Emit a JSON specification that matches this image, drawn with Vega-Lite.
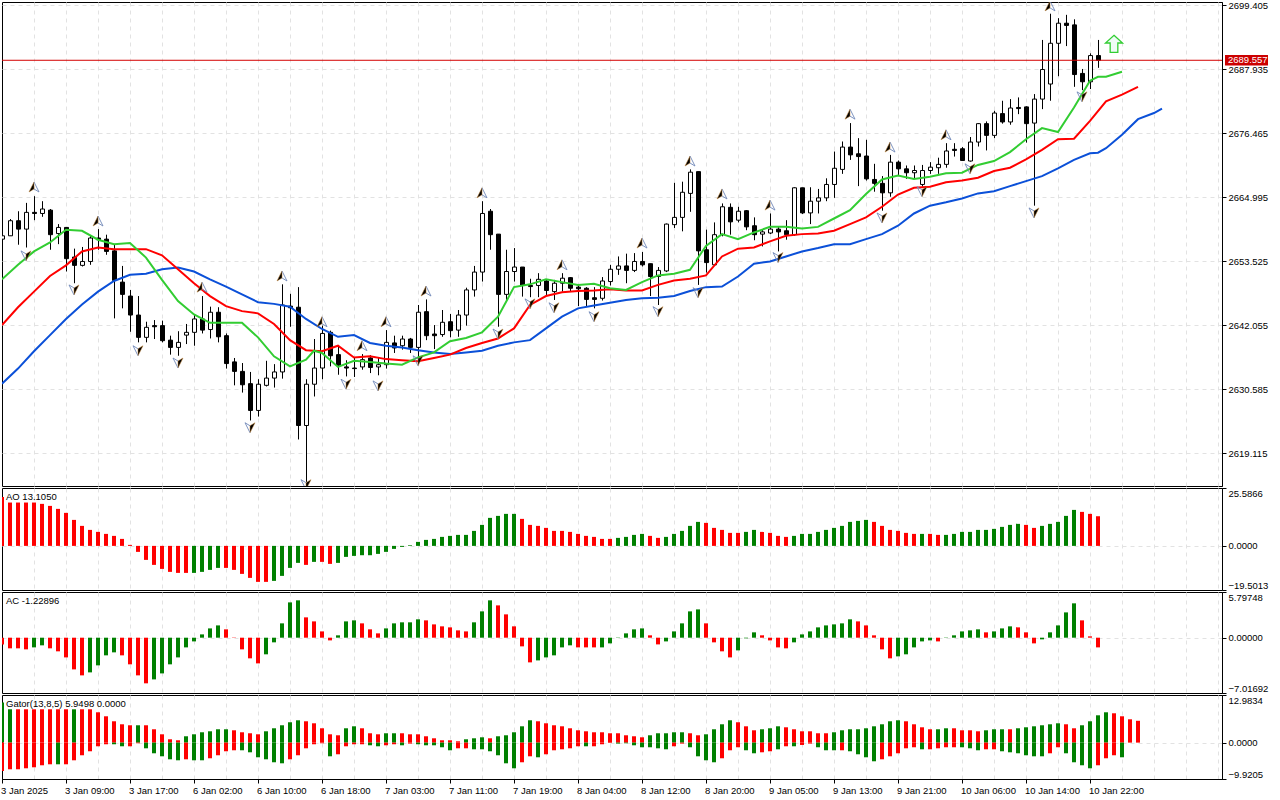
{
  "$schema": "https://vega.github.io/schema/vega-lite/v6.json",
  "padding": {"left": 0, "top": -1, "right": 0, "bottom": 0},
  "background": "white",
  "spacing": 2,
  "bounds": "flush",
  "datasets": {
    "candles": [
      {"bar":0,"open":2657.5,"high":2658.2,"low":2657.4,"close":2658.1},
      {"bar":1,"open":2658.1,"high":2661.1,"low":2658.1,"close":2660.8},
      {"bar":2,"open":2660.8,"high":2662.5,"low":2656.5,"close":2659.3},
      {"bar":3,"open":2659.3,"high":2664.0,"low":2656.0,"close":2662.3},
      {"bar":4,"open":2662.3,"high":2665.2,"low":2660.9,"close":2662.1},
      {"bar":5,"open":2662.1,"high":2664.3,"low":2661.5,"close":2662.9},
      {"bar":6,"open":2662.7,"high":2662.9,"low":2655.6,"close":2658.3},
      {"bar":7,"open":2658.5,"high":2660.2,"low":2656.6,"close":2659.6},
      {"bar":8,"open":2659.6,"high":2659.6,"low":2651.7,"close":2654.0},
      {"bar":9,"open":2654.3,"high":2655.8,"low":2649.6,"close":2652.8},
      {"bar":10,"open":2652.8,"high":2656.1,"low":2652.6,"close":2653.5},
      {"bar":11,"open":2653.5,"high":2658.1,"low":2652.9,"close":2657.7},
      {"bar":12,"open":2657.7,"high":2659.3,"low":2655.6,"close":2657.4},
      {"bar":13,"open":2657.5,"high":2658.3,"low":2654.7,"close":2655.3},
      {"bar":14,"open":2655.4,"high":2656.5,"low":2643.3,"close":2650.1},
      {"bar":15,"open":2649.8,"high":2652.7,"low":2645.1,"close":2647.6},
      {"bar":16,"open":2647.3,"high":2648.4,"low":2640.9,"close":2643.9},
      {"bar":17,"open":2643.9,"high":2647.3,"low":2639.0,"close":2639.9},
      {"bar":18,"open":2639.9,"high":2642.7,"low":2639.0,"close":2641.7},
      {"bar":19,"open":2642.0,"high":2643.0,"low":2639.6,"close":2641.8},
      {"bar":20,"open":2642.0,"high":2642.9,"low":2639.0,"close":2639.3},
      {"bar":21,"open":2639.4,"high":2640.2,"low":2636.8,"close":2638.1},
      {"bar":22,"open":2638.1,"high":2641.0,"low":2636.6,"close":2639.0},
      {"bar":23,"open":2640.3,"high":2642.3,"low":2638.7,"close":2640.8},
      {"bar":24,"open":2640.8,"high":2643.9,"low":2638.4,"close":2643.2},
      {"bar":25,"open":2643.2,"high":2647.3,"low":2640.6,"close":2641.2},
      {"bar":26,"open":2641.3,"high":2645.4,"low":2639.7,"close":2644.4},
      {"bar":27,"open":2644.4,"high":2645.3,"low":2639.0,"close":2640.0},
      {"bar":28,"open":2640.2,"high":2640.6,"low":2634.3,"close":2635.2},
      {"bar":29,"open":2635.5,"high":2636.2,"low":2631.3,"close":2633.8},
      {"bar":30,"open":2633.8,"high":2635.3,"low":2630.0,"close":2631.4},
      {"bar":31,"open":2631.6,"high":2633.7,"low":2625.0,"close":2626.8},
      {"bar":32,"open":2626.8,"high":2632.4,"low":2625.7,"close":2631.5},
      {"bar":33,"open":2631.3,"high":2635.7,"low":2631.1,"close":2632.6},
      {"bar":34,"open":2632.6,"high":2635.1,"low":2630.9,"close":2633.7},
      {"bar":35,"open":2633.7,"high":2649.4,"low":2632.5,"close":2645.7},
      {"bar":36,"open":2645.5,"high":2647.7,"low":2641.8,"close":2645.2},
      {"bar":37,"open":2645.3,"high":2648.9,"low":2621.6,"close":2624.1},
      {"bar":38,"open":2624.1,"high":2632.4,"low":2614.0,"close":2631.5},
      {"bar":39,"open":2631.5,"high":2639.6,"low":2629.3,"close":2634.4},
      {"bar":40,"open":2634.4,"high":2642.0,"low":2632.4,"close":2640.6},
      {"bar":41,"open":2640.8,"high":2641.1,"low":2634.7,"close":2636.6},
      {"bar":42,"open":2636.8,"high":2638.4,"low":2633.2,"close":2634.9},
      {"bar":43,"open":2634.6,"high":2635.8,"low":2632.9,"close":2634.4},
      {"bar":44,"open":2634.4,"high":2636.2,"low":2632.8,"close":2634.3},
      {"bar":45,"open":2634.6,"high":2636.9,"low":2634.1,"close":2635.9},
      {"bar":46,"open":2636.2,"high":2636.7,"low":2633.5,"close":2634.5},
      {"bar":47,"open":2634.6,"high":2636.2,"low":2633.1,"close":2635.0},
      {"bar":48,"open":2635.0,"high":2641.2,"low":2634.3,"close":2639.0},
      {"bar":49,"open":2638.9,"high":2640.2,"low":2637.1,"close":2638.0},
      {"bar":50,"open":2638.4,"high":2640.2,"low":2637.7,"close":2639.6},
      {"bar":51,"open":2639.6,"high":2639.8,"low":2637.1,"close":2638.1},
      {"bar":52,"open":2638.1,"high":2645.7,"low":2635.3,"close":2644.4},
      {"bar":53,"open":2644.5,"high":2646.7,"low":2639.4,"close":2640.2},
      {"bar":54,"open":2640.5,"high":2642.1,"low":2637.8,"close":2640.2},
      {"bar":55,"open":2640.4,"high":2644.8,"low":2640.0,"close":2642.6},
      {"bar":56,"open":2642.7,"high":2644.1,"low":2639.9,"close":2641.1},
      {"bar":57,"open":2641.2,"high":2644.8,"low":2640.0,"close":2643.9},
      {"bar":58,"open":2643.9,"high":2648.8,"low":2642.0,"close":2648.4},
      {"bar":59,"open":2648.4,"high":2652.7,"low":2647.2,"close":2651.6},
      {"bar":60,"open":2651.6,"high":2664.3,"low":2649.9,"close":2662.1},
      {"bar":61,"open":2662.5,"high":2662.9,"low":2655.6,"close":2658.3},
      {"bar":62,"open":2658.4,"high":2658.4,"low":2641.8,"close":2647.6},
      {"bar":63,"open":2647.6,"high":2655.6,"low":2646.3,"close":2651.7},
      {"bar":64,"open":2651.7,"high":2655.9,"low":2649.9,"close":2652.5},
      {"bar":65,"open":2652.5,"high":2652.5,"low":2647.2,"close":2649.2},
      {"bar":66,"open":2649.2,"high":2650.4,"low":2647.1,"close":2649.0},
      {"bar":67,"open":2649.2,"high":2651.4,"low":2647.1,"close":2650.3},
      {"bar":68,"open":2650.0,"high":2650.3,"low":2647.5,"close":2648.3},
      {"bar":69,"open":2648.1,"high":2650.2,"low":2646.6,"close":2649.6},
      {"bar":70,"open":2649.6,"high":2651.4,"low":2648.1,"close":2650.5},
      {"bar":71,"open":2650.6,"high":2650.7,"low":2648.1,"close":2648.7},
      {"bar":72,"open":2648.9,"high":2649.4,"low":2645.5,"close":2648.6},
      {"bar":73,"open":2648.7,"high":2648.9,"low":2645.5,"close":2646.7},
      {"bar":74,"open":2647.0,"high":2648.9,"low":2645.1,"close":2646.7},
      {"bar":75,"open":2646.9,"high":2650.7,"low":2646.5,"close":2650.0},
      {"bar":76,"open":2649.9,"high":2652.9,"low":2649.2,"close":2652.1},
      {"bar":77,"open":2652.1,"high":2654.4,"low":2651.1,"close":2652.7},
      {"bar":78,"open":2652.7,"high":2654.9,"low":2649.6,"close":2651.9},
      {"bar":79,"open":2651.9,"high":2655.0,"low":2651.6,"close":2653.5},
      {"bar":80,"open":2653.5,"high":2655.2,"low":2652.6,"close":2652.9},
      {"bar":81,"open":2653.1,"high":2653.1,"low":2647.3,"close":2650.8},
      {"bar":82,"open":2650.8,"high":2652.5,"low":2645.7,"close":2651.9},
      {"bar":83,"open":2651.8,"high":2660.3,"low":2651.6,"close":2660.2},
      {"bar":84,"open":2660.1,"high":2667.6,"low":2659.5,"close":2661.4},
      {"bar":85,"open":2661.4,"high":2667.8,"low":2658.9,"close":2665.9},
      {"bar":86,"open":2665.7,"high":2670.0,"low":2662.4,"close":2669.5},
      {"bar":87,"open":2669.6,"high":2669.6,"low":2649.3,"close":2655.4},
      {"bar":88,"open":2655.6,"high":2659.2,"low":2651.5,"close":2653.3},
      {"bar":89,"open":2652.9,"high":2660.5,"low":2652.8,"close":2658.3},
      {"bar":90,"open":2658.3,"high":2663.9,"low":2658.0,"close":2663.3},
      {"bar":91,"open":2663.2,"high":2663.9,"low":2658.3,"close":2660.6},
      {"bar":92,"open":2660.9,"high":2663.3,"low":2660.5,"close":2662.5},
      {"bar":93,"open":2662.6,"high":2662.7,"low":2659.1,"close":2659.7},
      {"bar":94,"open":2659.9,"high":2661.4,"low":2657.3,"close":2658.3},
      {"bar":95,"open":2658.4,"high":2659.2,"low":2656.2,"close":2658.8},
      {"bar":96,"open":2658.6,"high":2662.1,"low":2658.4,"close":2659.3},
      {"bar":97,"open":2659.3,"high":2659.8,"low":2655.3,"close":2658.8},
      {"bar":98,"open":2659.0,"high":2660.9,"low":2657.4,"close":2658.3},
      {"bar":99,"open":2658.3,"high":2666.8,"low":2658.1,"close":2666.7},
      {"bar":100,"open":2666.7,"high":2666.7,"low":2662.0,"close":2662.2},
      {"bar":101,"open":2662.2,"high":2666.8,"low":2660.2,"close":2664.3},
      {"bar":102,"open":2664.3,"high":2666.5,"low":2662.1,"close":2664.9},
      {"bar":103,"open":2664.9,"high":2668.4,"low":2664.3,"close":2667.3},
      {"bar":104,"open":2667.3,"high":2673.2,"low":2664.9,"close":2670.2},
      {"bar":105,"open":2670.0,"high":2675.0,"low":2669.2,"close":2674.0},
      {"bar":106,"open":2674.0,"high":2678.3,"low":2671.7,"close":2672.6},
      {"bar":107,"open":2672.8,"high":2675.6,"low":2667.0,"close":2672.3},
      {"bar":108,"open":2672.4,"high":2675.3,"low":2668.0,"close":2668.3},
      {"bar":109,"open":2668.2,"high":2671.0,"low":2666.0,"close":2667.5},
      {"bar":110,"open":2667.5,"high":2668.8,"low":2662.6,"close":2665.8},
      {"bar":111,"open":2665.8,"high":2672.6,"low":2665.1,"close":2671.3},
      {"bar":112,"open":2671.3,"high":2671.6,"low":2669.0,"close":2670.1},
      {"bar":113,"open":2670.1,"high":2670.7,"low":2668.3,"close":2669.4},
      {"bar":114,"open":2669.4,"high":2670.7,"low":2668.3,"close":2669.8},
      {"bar":115,"open":2667.3,"high":2670.8,"low":2666.9,"close":2669.8},
      {"bar":116,"open":2669.8,"high":2671.3,"low":2669.2,"close":2670.4},
      {"bar":117,"open":2670.3,"high":2672.1,"low":2669.2,"close":2670.9},
      {"bar":118,"open":2670.9,"high":2674.7,"low":2670.3,"close":2673.3},
      {"bar":119,"open":2673.6,"high":2674.7,"low":2672.3,"close":2673.4},
      {"bar":120,"open":2673.7,"high":2674.0,"low":2671.5,"close":2671.6},
      {"bar":121,"open":2671.5,"high":2675.8,"low":2671.4,"close":2674.9},
      {"bar":122,"open":2674.9,"high":2678.3,"low":2674.1,"close":2678.2},
      {"bar":123,"open":2678.2,"high":2678.6,"low":2673.4,"close":2676.1},
      {"bar":124,"open":2676.1,"high":2680.5,"low":2675.6,"close":2680.1},
      {"bar":125,"open":2680.0,"high":2682.3,"low":2678.2,"close":2678.5},
      {"bar":126,"open":2678.5,"high":2682.6,"low":2678.0,"close":2681.0},
      {"bar":127,"open":2681.1,"high":2682.9,"low":2679.9,"close":2680.9},
      {"bar":128,"open":2681.2,"high":2681.3,"low":2674.8,"close":2678.2},
      {"bar":129,"open":2678.3,"high":2683.5,"low":2663.5,"close":2682.6},
      {"bar":130,"open":2682.6,"high":2693.2,"low":2680.8,"close":2687.9},
      {"bar":131,"open":2685.3,"high":2697.9,"low":2682.3,"close":2692.6},
      {"bar":132,"open":2692.6,"high":2697.1,"low":2686.7,"close":2696.2},
      {"bar":133,"open":2696.2,"high":2697.7,"low":2692.1,"close":2695.8},
      {"bar":134,"open":2695.9,"high":2696.9,"low":2684.8,"close":2687.0},
      {"bar":135,"open":2687.2,"high":2688.0,"low":2684.2,"close":2685.7},
      {"bar":136,"open":2685.7,"high":2690.8,"low":2684.4,"close":2690.4},
      {"bar":137,"open":2690.4,"high":2693.2,"low":2688.2,"close":2689.557}
    ],
    "jaw": [
      {"bar":0,"price":2631.6},{"bar":2,"price":2634.3},{"bar":4,"price":2637.4},{"bar":6,"price":2640.3},{"bar":8,"price":2643.2},{"bar":10,"price":2645.8},{"bar":12,"price":2648.1},{"bar":14,"price":2650.0},{"bar":16,"price":2651.1},{"bar":18,"price":2651.3},{"bar":20,"price":2652.1},{"bar":22,"price":2652.4},{"bar":24,"price":2651.7},{"bar":26,"price":2650.3},{"bar":28,"price":2649.0},{"bar":30,"price":2647.6},{"bar":32,"price":2646.2},{"bar":34,"price":2645.9},{"bar":36,"price":2645.4},{"bar":38,"price":2643.2},{"bar":40,"price":2641.4},{"bar":42,"price":2640.0},{"bar":44,"price":2640.3},{"bar":46,"price":2638.9},{"bar":48,"price":2638.4},{"bar":50,"price":2638.1},{"bar":52,"price":2637.6},{"bar":54,"price":2637.2},{"bar":56,"price":2636.9},{"bar":58,"price":2637.2},{"bar":60,"price":2637.5},{"bar":62,"price":2638.4},{"bar":64,"price":2639.0},{"bar":66,"price":2639.4},{"bar":68,"price":2641.5},{"bar":70,"price":2643.6},{"bar":72,"price":2645.1},{"bar":74,"price":2645.6},{"bar":76,"price":2646.1},{"bar":78,"price":2646.6},{"bar":80,"price":2646.9},{"bar":82,"price":2647.0},{"bar":84,"price":2647.3},{"bar":86,"price":2648.2},{"bar":88,"price":2648.9},{"bar":90,"price":2649.0},{"bar":92,"price":2650.8},{"bar":94,"price":2653.1},{"bar":96,"price":2653.5},{"bar":98,"price":2654.4},{"bar":100,"price":2655.3},{"bar":102,"price":2655.9},{"bar":104,"price":2656.6},{"bar":106,"price":2656.6},{"bar":108,"price":2657.5},{"bar":110,"price":2658.4},{"bar":112,"price":2659.9},{"bar":114,"price":2662.1},{"bar":116,"price":2663.5},{"bar":118,"price":2664.1},{"bar":120,"price":2664.8},{"bar":122,"price":2665.7},{"bar":124,"price":2666.1},{"bar":126,"price":2667.0},{"bar":128,"price":2667.9},{"bar":130,"price":2668.8},{"bar":132,"price":2670.2},{"bar":134,"price":2671.7},{"bar":136,"price":2672.9},{"bar":137,"price":2673.0},{"bar":138,"price":2673.8},{"bar":140,"price":2676.2},{"bar":142,"price":2679.0},{"bar":144,"price":2680.1},{"bar":145,"price":2680.9}
    ],
    "teeth": [
      {"bar":0,"price":2642.1},{"bar":2,"price":2645.3},{"bar":4,"price":2648.1},{"bar":6,"price":2650.9},{"bar":8,"price":2652.8},{"bar":10,"price":2655.3},{"bar":12,"price":2656.0},{"bar":14,"price":2655.7},{"bar":16,"price":2655.7},{"bar":18,"price":2655.7},{"bar":20,"price":2654.6},{"bar":22,"price":2652.1},{"bar":24,"price":2649.6},{"bar":26,"price":2647.3},{"bar":28,"price":2645.5},{"bar":30,"price":2644.6},{"bar":32,"price":2644.2},{"bar":34,"price":2642.3},{"bar":36,"price":2639.4},{"bar":38,"price":2637.6},{"bar":40,"price":2637.4},{"bar":42,"price":2638.4},{"bar":44,"price":2636.3},{"bar":46,"price":2636.5},{"bar":48,"price":2636.0},{"bar":50,"price":2635.8},{"bar":52,"price":2635.6},{"bar":54,"price":2636.2},{"bar":56,"price":2636.8},{"bar":58,"price":2638.0},{"bar":60,"price":2638.9},{"bar":62,"price":2639.7},{"bar":64,"price":2641.5},{"bar":66,"price":2645.7},{"bar":68,"price":2647.3},{"bar":70,"price":2648.0},{"bar":72,"price":2648.2},{"bar":74,"price":2648.3},{"bar":76,"price":2648.5},{"bar":78,"price":2648.3},{"bar":80,"price":2648.3},{"bar":82,"price":2649.3},{"bar":84,"price":2650.1},{"bar":86,"price":2650.4},{"bar":88,"price":2651.0},{"bar":90,"price":2654.4},{"bar":92,"price":2655.8},{"bar":94,"price":2656.0},{"bar":96,"price":2657.1},{"bar":98,"price":2658.1},{"bar":100,"price":2658.4},{"bar":102,"price":2658.5},{"bar":104,"price":2659.0},{"bar":106,"price":2660.2},{"bar":108,"price":2661.4},{"bar":110,"price":2663.3},{"bar":112,"price":2665.5},{"bar":114,"price":2666.7},{"bar":116,"price":2666.9},{"bar":118,"price":2667.7},{"bar":120,"price":2668.0},{"bar":122,"price":2668.5},{"bar":124,"price":2669.7},{"bar":126,"price":2670.3},{"bar":128,"price":2671.8},{"bar":130,"price":2673.5},{"bar":132,"price":2675.4},{"bar":134,"price":2675.5},{"bar":136,"price":2678.7},{"bar":138,"price":2682.2},{"bar":140,"price":2683.4},{"bar":142,"price":2684.8}
    ],
    "lips": [
      {"bar":0,"price":2650.3},{"bar":2,"price":2652.9},{"bar":4,"price":2655.3},{"bar":6,"price":2656.9},{"bar":8,"price":2659.2},{"bar":10,"price":2659.0},{"bar":12,"price":2657.4},{"bar":14,"price":2656.6},{"bar":16,"price":2656.8},{"bar":18,"price":2654.2},{"bar":20,"price":2650.2},{"bar":22,"price":2646.4},{"bar":24,"price":2644.0},{"bar":26,"price":2642.5},{"bar":28,"price":2642.5},{"bar":30,"price":2642.5},{"bar":32,"price":2639.9},{"bar":34,"price":2636.5},{"bar":36,"price":2634.7},{"bar":38,"price":2635.9},{"bar":39,"price":2637.5},{"bar":40,"price":2637.1},{"bar":42,"price":2634.6},{"bar":44,"price":2635.7},{"bar":46,"price":2635.5},{"bar":48,"price":2635.2},{"bar":50,"price":2635.0},{"bar":52,"price":2636.3},{"bar":54,"price":2637.2},{"bar":56,"price":2639.2},{"bar":58,"price":2639.8},{"bar":60,"price":2640.8},{"bar":62,"price":2643.6},{"bar":64,"price":2648.9},{"bar":66,"price":2649.4},{"bar":68,"price":2650.3},{"bar":70,"price":2649.8},{"bar":72,"price":2649.3},{"bar":74,"price":2649.5},{"bar":76,"price":2648.7},{"bar":78,"price":2648.4},{"bar":80,"price":2649.8},{"bar":82,"price":2651.0},{"bar":84,"price":2651.3},{"bar":86,"price":2652.0},{"bar":88,"price":2656.3},{"bar":90,"price":2658.4},{"bar":92,"price":2657.5},{"bar":94,"price":2658.7},{"bar":96,"price":2659.7},{"bar":98,"price":2659.7},{"bar":100,"price":2659.4},{"bar":102,"price":2659.7},{"bar":104,"price":2661.2},{"bar":106,"price":2662.7},{"bar":108,"price":2665.6},{"bar":110,"price":2668.2},{"bar":112,"price":2668.9},{"bar":114,"price":2668.3},{"bar":116,"price":2668.7},{"bar":118,"price":2669.3},{"bar":120,"price":2669.4},{"bar":122,"price":2670.8},{"bar":124,"price":2671.5},{"bar":126,"price":2673.1},{"bar":128,"price":2675.4},{"bar":130,"price":2677.4},{"bar":132,"price":2676.7},{"bar":134,"price":2681.1},{"bar":136,"price":2685.9},{"bar":137,"price":2686.6},{"bar":138,"price":2686.6},{"bar":140,"price":2687.5}
    ],
    "fractalsUp": [
      {"bar":4,"price":2666.85},{"bar":12,"price":2660.75},{"bar":25,"price":2648.9},{"bar":35,"price":2650.9},{"bar":40,"price":2642.7},{"bar":45,"price":2638.4},{"bar":48,"price":2642.7},{"bar":53,"price":2648.2},{"bar":60,"price":2665.8},{"bar":70,"price":2652.9},{"bar":80,"price":2656.8},{"bar":86,"price":2671.5},{"bar":90,"price":2665.6},{"bar":96,"price":2663.6},{"bar":106,"price":2679.9},{"bar":111,"price":2674.0},{"bar":118,"price":2676.2},{"bar":131,"price":2699.3}
    ],
    "fractalsDown": [
      {"bar":3,"price":2654.5},{"bar":9,"price":2648.4},{"bar":17,"price":2637.5},{"bar":22,"price":2635.3},{"bar":31,"price":2623.7},{"bar":38,"price":2613.5},{"bar":43,"price":2631.5},{"bar":47,"price":2631.2},{"bar":52,"price":2635.7},{"bar":62,"price":2640.5},{"bar":66,"price":2645.9},{"bar":69,"price":2645.2},{"bar":74,"price":2643.6},{"bar":82,"price":2644.5},{"bar":87,"price":2647.9},{"bar":97,"price":2654.2},{"bar":110,"price":2661.3},{"bar":115,"price":2666.0},{"bar":121,"price":2670.1},{"bar":129,"price":2662.2},{"bar":135,"price":2683.0}
    ],
    "signal": [{"bar":139,"price":2692.5}],
    "lastPrice": [{"bar":152.875,"barEnd":158.25,"textBar":153.25,"top":2690.5,"bottom":2688.6,"price":2689.557,"label":"2689.557"}],
    "ao": [
      {"bar":0,"value":21.66,"dir":"down"},{"bar":1,"value":19.16,"dir":"down"},{"bar":2,"value":19.16,"dir":"down"},{"bar":3,"value":19.16,"dir":"down"},{"bar":4,"value":19.16,"dir":"down"},{"bar":5,"value":18.57,"dir":"down"},{"bar":6,"value":17.68,"dir":"down"},{"bar":7,"value":16.36,"dir":"down"},{"bar":8,"value":14.59,"dir":"down"},{"bar":9,"value":11.49,"dir":"down"},{"bar":10,"value":8.84,"dir":"down"},{"bar":11,"value":7.07,"dir":"down"},{"bar":12,"value":6.19,"dir":"down"},{"bar":13,"value":5.3,"dir":"down"},{"bar":14,"value":4.42,"dir":"down"},{"bar":15,"value":3.09,"dir":"down"},{"bar":16,"value":0.44,"dir":"down"},{"bar":17,"value":-2.65,"dir":"down"},{"bar":18,"value":-6.19,"dir":"down"},{"bar":19,"value":-8.4,"dir":"down"},{"bar":20,"value":-10.17,"dir":"down"},{"bar":21,"value":-11.49,"dir":"down"},{"bar":22,"value":-11.94,"dir":"down"},{"bar":23,"value":-11.94,"dir":"down"},{"bar":24,"value":-11.94,"dir":"up"},{"bar":25,"value":-11.49,"dir":"up"},{"bar":26,"value":-10.61,"dir":"up"},{"bar":27,"value":-9.73,"dir":"up"},{"bar":28,"value":-9.73,"dir":"down"},{"bar":29,"value":-10.61,"dir":"down"},{"bar":30,"value":-12.38,"dir":"down"},{"bar":31,"value":-14.15,"dir":"down"},{"bar":32,"value":-15.91,"dir":"down"},{"bar":33,"value":-15.91,"dir":"down"},{"bar":34,"value":-15.47,"dir":"up"},{"bar":35,"value":-13.26,"dir":"up"},{"bar":36,"value":-9.73,"dir":"up"},{"bar":37,"value":-7.51,"dir":"up"},{"bar":38,"value":-8.4,"dir":"down"},{"bar":39,"value":-7.07,"dir":"up"},{"bar":40,"value":-7.07,"dir":"down"},{"bar":41,"value":-7.96,"dir":"down"},{"bar":42,"value":-7.51,"dir":"up"},{"bar":43,"value":-4.86,"dir":"up"},{"bar":44,"value":-4.42,"dir":"up"},{"bar":45,"value":-4.13,"dir":"up"},{"bar":46,"value":-4.13,"dir":"up"},{"bar":47,"value":-3.54,"dir":"up"},{"bar":48,"value":-2.65,"dir":"up"},{"bar":49,"value":-1.33,"dir":"up"},{"bar":50,"value":-0.44,"dir":"up"},{"bar":51,"value":0.29,"dir":"up"},{"bar":52,"value":1.77,"dir":"up"},{"bar":53,"value":2.65,"dir":"up"},{"bar":54,"value":3.09,"dir":"up"},{"bar":55,"value":3.98,"dir":"up"},{"bar":56,"value":4.42,"dir":"up"},{"bar":57,"value":4.86,"dir":"up"},{"bar":58,"value":4.86,"dir":"up"},{"bar":59,"value":6.63,"dir":"up"},{"bar":60,"value":9.28,"dir":"up"},{"bar":61,"value":12.38,"dir":"up"},{"bar":62,"value":13.26,"dir":"up"},{"bar":63,"value":14.15,"dir":"up"},{"bar":64,"value":14.15,"dir":"up"},{"bar":65,"value":11.94,"dir":"down"},{"bar":66,"value":9.28,"dir":"down"},{"bar":67,"value":8.84,"dir":"down"},{"bar":68,"value":7.96,"dir":"down"},{"bar":69,"value":6.63,"dir":"down"},{"bar":70,"value":6.63,"dir":"down"},{"bar":71,"value":6.19,"dir":"down"},{"bar":72,"value":5.3,"dir":"down"},{"bar":73,"value":4.42,"dir":"down"},{"bar":74,"value":3.98,"dir":"down"},{"bar":75,"value":3.09,"dir":"down"},{"bar":76,"value":3.09,"dir":"down"},{"bar":77,"value":3.54,"dir":"up"},{"bar":78,"value":3.98,"dir":"up"},{"bar":79,"value":4.86,"dir":"up"},{"bar":80,"value":5.3,"dir":"up"},{"bar":81,"value":4.42,"dir":"down"},{"bar":82,"value":3.54,"dir":"down"},{"bar":83,"value":3.98,"dir":"up"},{"bar":84,"value":5.3,"dir":"up"},{"bar":85,"value":6.63,"dir":"up"},{"bar":86,"value":8.84,"dir":"up"},{"bar":87,"value":10.61,"dir":"up"},{"bar":88,"value":10.17,"dir":"down"},{"bar":89,"value":7.96,"dir":"down"},{"bar":90,"value":7.07,"dir":"down"},{"bar":91,"value":5.75,"dir":"down"},{"bar":92,"value":5.75,"dir":"down"},{"bar":93,"value":6.19,"dir":"up"},{"bar":94,"value":7.07,"dir":"up"},{"bar":95,"value":6.19,"dir":"down"},{"bar":96,"value":5.75,"dir":"down"},{"bar":97,"value":4.42,"dir":"down"},{"bar":98,"value":3.98,"dir":"down"},{"bar":99,"value":4.42,"dir":"up"},{"bar":100,"value":5.3,"dir":"up"},{"bar":101,"value":5.3,"dir":"up"},{"bar":102,"value":6.19,"dir":"up"},{"bar":103,"value":7.07,"dir":"up"},{"bar":104,"value":7.96,"dir":"up"},{"bar":105,"value":8.84,"dir":"up"},{"bar":106,"value":10.61,"dir":"up"},{"bar":107,"value":11.05,"dir":"up"},{"bar":108,"value":11.49,"dir":"up"},{"bar":109,"value":10.61,"dir":"down"},{"bar":110,"value":8.84,"dir":"down"},{"bar":111,"value":7.07,"dir":"down"},{"bar":112,"value":6.63,"dir":"down"},{"bar":113,"value":5.75,"dir":"down"},{"bar":114,"value":5.3,"dir":"down"},{"bar":115,"value":5.3,"dir":"up"},{"bar":116,"value":5.3,"dir":"down"},{"bar":117,"value":4.86,"dir":"down"},{"bar":118,"value":4.86,"dir":"up"},{"bar":119,"value":5.3,"dir":"up"},{"bar":120,"value":6.19,"dir":"up"},{"bar":121,"value":6.19,"dir":"up"},{"bar":122,"value":7.07,"dir":"up"},{"bar":123,"value":7.07,"dir":"up"},{"bar":124,"value":7.52,"dir":"up"},{"bar":125,"value":8.4,"dir":"up"},{"bar":126,"value":9.28,"dir":"up"},{"bar":127,"value":9.73,"dir":"up"},{"bar":128,"value":9.28,"dir":"down"},{"bar":129,"value":7.96,"dir":"down"},{"bar":130,"value":8.84,"dir":"up"},{"bar":131,"value":9.73,"dir":"up"},{"bar":132,"value":10.61,"dir":"up"},{"bar":133,"value":13.26,"dir":"up"},{"bar":134,"value":15.91,"dir":"up"},{"bar":135,"value":15.03,"dir":"down"},{"bar":136,"value":14.15,"dir":"down"},{"bar":137,"value":13.105,"dir":"down"}
    ],
    "ac": [
      {"bar":0,"value":-0.85,"dir":"down"},{"bar":1,"value":-1.35,"dir":"down"},{"bar":2,"value":-1.35,"dir":"down"},{"bar":3,"value":-1.48,"dir":"down"},{"bar":4,"value":-1.23,"dir":"up"},{"bar":5,"value":-0.97,"dir":"up"},{"bar":6,"value":-1.35,"dir":"down"},{"bar":7,"value":-1.73,"dir":"down"},{"bar":8,"value":-2.5,"dir":"down"},{"bar":9,"value":-4.02,"dir":"down"},{"bar":10,"value":-4.78,"dir":"down"},{"bar":11,"value":-4.4,"dir":"up"},{"bar":12,"value":-3.51,"dir":"up"},{"bar":13,"value":-2.24,"dir":"up"},{"bar":14,"value":-1.86,"dir":"up"},{"bar":15,"value":-2.24,"dir":"down"},{"bar":16,"value":-3.38,"dir":"down"},{"bar":17,"value":-4.78,"dir":"down"},{"bar":18,"value":-5.79,"dir":"down"},{"bar":19,"value":-5.29,"dir":"up"},{"bar":20,"value":-4.53,"dir":"up"},{"bar":21,"value":-3.38,"dir":"up"},{"bar":22,"value":-2.5,"dir":"up"},{"bar":23,"value":-1.23,"dir":"up"},{"bar":24,"value":-0.47,"dir":"up"},{"bar":25,"value":0.42,"dir":"up"},{"bar":26,"value":1.18,"dir":"up"},{"bar":27,"value":1.56,"dir":"up"},{"bar":28,"value":1.06,"dir":"down"},{"bar":29,"value":-0.04,"dir":"down"},{"bar":30,"value":-1.48,"dir":"down"},{"bar":31,"value":-2.62,"dir":"down"},{"bar":32,"value":-3.26,"dir":"down"},{"bar":33,"value":-2.11,"dir":"up"},{"bar":34,"value":-0.59,"dir":"up"},{"bar":35,"value":1.82,"dir":"up"},{"bar":36,"value":4.48,"dir":"up"},{"bar":37,"value":4.74,"dir":"up"},{"bar":38,"value":2.58,"dir":"down"},{"bar":39,"value":2.07,"dir":"down"},{"bar":40,"value":0.8,"dir":"down"},{"bar":41,"value":-0.34,"dir":"down"},{"bar":42,"value":0.3,"dir":"up"},{"bar":43,"value":2.07,"dir":"up"},{"bar":44,"value":2.2,"dir":"up"},{"bar":45,"value":1.82,"dir":"down"},{"bar":46,"value":1.06,"dir":"down"},{"bar":47,"value":0.55,"dir":"down"},{"bar":48,"value":1.18,"dir":"up"},{"bar":49,"value":1.82,"dir":"up"},{"bar":50,"value":1.95,"dir":"up"},{"bar":51,"value":1.95,"dir":"up"},{"bar":52,"value":2.33,"dir":"up"},{"bar":53,"value":2.2,"dir":"down"},{"bar":54,"value":1.69,"dir":"down"},{"bar":55,"value":1.44,"dir":"down"},{"bar":56,"value":1.31,"dir":"down"},{"bar":57,"value":0.93,"dir":"down"},{"bar":58,"value":0.8,"dir":"down"},{"bar":59,"value":1.95,"dir":"up"},{"bar":60,"value":3.34,"dir":"up"},{"bar":61,"value":4.74,"dir":"up"},{"bar":62,"value":4.1,"dir":"down"},{"bar":63,"value":2.96,"dir":"down"},{"bar":64,"value":1.44,"dir":"down"},{"bar":65,"value":-1.1,"dir":"down"},{"bar":66,"value":-3.13,"dir":"down"},{"bar":67,"value":-2.88,"dir":"up"},{"bar":68,"value":-2.5,"dir":"up"},{"bar":69,"value":-2.24,"dir":"up"},{"bar":70,"value":-1.23,"dir":"up"},{"bar":71,"value":-0.97,"dir":"up"},{"bar":72,"value":-1.23,"dir":"down"},{"bar":73,"value":-1.23,"dir":"down"},{"bar":74,"value":-1.23,"dir":"down"},{"bar":75,"value":-1.23,"dir":"up"},{"bar":76,"value":-0.72,"dir":"up"},{"bar":77,"value":-0.04,"dir":"up"},{"bar":78,"value":0.55,"dir":"up"},{"bar":79,"value":1.06,"dir":"up"},{"bar":80,"value":1.18,"dir":"up"},{"bar":81,"value":0.3,"dir":"down"},{"bar":82,"value":-0.85,"dir":"down"},{"bar":83,"value":-0.47,"dir":"up"},{"bar":84,"value":0.8,"dir":"up"},{"bar":85,"value":1.82,"dir":"up"},{"bar":86,"value":3.34,"dir":"up"},{"bar":87,"value":3.59,"dir":"up"},{"bar":88,"value":1.82,"dir":"down"},{"bar":89,"value":-0.59,"dir":"down"},{"bar":90,"value":-1.73,"dir":"down"},{"bar":91,"value":-2.5,"dir":"down"},{"bar":92,"value":-1.61,"dir":"up"},{"bar":93,"value":-0.08,"dir":"up"},{"bar":94,"value":0.68,"dir":"up"},{"bar":95,"value":0.3,"dir":"down"},{"bar":96,"value":-0.34,"dir":"down"},{"bar":97,"value":-1.23,"dir":"down"},{"bar":98,"value":-1.35,"dir":"down"},{"bar":99,"value":-0.59,"dir":"up"},{"bar":100,"value":0.42,"dir":"up"},{"bar":101,"value":0.8,"dir":"up"},{"bar":102,"value":1.31,"dir":"up"},{"bar":103,"value":1.56,"dir":"up"},{"bar":104,"value":1.69,"dir":"up"},{"bar":105,"value":1.82,"dir":"up"},{"bar":106,"value":2.33,"dir":"up"},{"bar":107,"value":2.07,"dir":"down"},{"bar":108,"value":1.56,"dir":"down"},{"bar":109,"value":0.3,"dir":"down"},{"bar":110,"value":-1.48,"dir":"down"},{"bar":111,"value":-2.62,"dir":"down"},{"bar":112,"value":-2.37,"dir":"up"},{"bar":113,"value":-2.11,"dir":"up"},{"bar":114,"value":-1.23,"dir":"up"},{"bar":115,"value":-0.47,"dir":"up"},{"bar":116,"value":-0.34,"dir":"up"},{"bar":117,"value":-0.47,"dir":"down"},{"bar":118,"value":-0.04,"dir":"up"},{"bar":119,"value":0.3,"dir":"up"},{"bar":120,"value":0.8,"dir":"up"},{"bar":121,"value":0.93,"dir":"up"},{"bar":122,"value":1.06,"dir":"up"},{"bar":123,"value":0.68,"dir":"down"},{"bar":124,"value":0.8,"dir":"up"},{"bar":125,"value":1.18,"dir":"up"},{"bar":126,"value":1.44,"dir":"up"},{"bar":127,"value":1.31,"dir":"down"},{"bar":128,"value":0.68,"dir":"down"},{"bar":129,"value":-0.72,"dir":"down"},{"bar":130,"value":-0.21,"dir":"up"},{"bar":131,"value":0.68,"dir":"up"},{"bar":132,"value":1.56,"dir":"up"},{"bar":133,"value":3.21,"dir":"up"},{"bar":134,"value":4.36,"dir":"up"},{"bar":135,"value":2.2,"dir":"down"},{"bar":136,"value":0.17,"dir":"down"},{"bar":137,"value":-1.229,"dir":"down"}
    ],
    "gator": [
      {"bar":0,"upper":10.91,"upperDir":"up","lower":-7.73,"lowerDir":"down"},
      {"bar":1,"upper":9.09,"upperDir":"up","lower":-7.27,"lowerDir":"down"},
      {"bar":2,"upper":9.09,"upperDir":"down","lower":-7.27,"lowerDir":"down"},
      {"bar":3,"upper":9.09,"upperDir":"down","lower":-7.0,"lowerDir":"down"},
      {"bar":4,"upper":9.09,"upperDir":"down","lower":-6.73,"lowerDir":"down"},
      {"bar":5,"upper":9.09,"upperDir":"down","lower":-6.18,"lowerDir":"down"},
      {"bar":6,"upper":9.09,"upperDir":"down","lower":-5.91,"lowerDir":"down"},
      {"bar":7,"upper":9.09,"upperDir":"down","lower":-5.91,"lowerDir":"up"},
      {"bar":8,"upper":9.09,"upperDir":"down","lower":-5.91,"lowerDir":"down"},
      {"bar":9,"upper":9.09,"upperDir":"up","lower":-4.82,"lowerDir":"down"},
      {"bar":10,"upper":9.09,"upperDir":"down","lower":-3.45,"lowerDir":"down"},
      {"bar":11,"upper":9.09,"upperDir":"down","lower":-2.36,"lowerDir":"down"},
      {"bar":12,"upper":8.27,"upperDir":"down","lower":-1.0,"lowerDir":"down"},
      {"bar":13,"upper":7.18,"upperDir":"down","lower":-0.45,"lowerDir":"down"},
      {"bar":14,"upper":5.82,"upperDir":"down","lower":-0.45,"lowerDir":"up"},
      {"bar":15,"upper":5.0,"upperDir":"down","lower":-1.0,"lowerDir":"up"},
      {"bar":16,"upper":4.73,"upperDir":"down","lower":-1.0,"lowerDir":"down"},
      {"bar":17,"upper":4.73,"upperDir":"up","lower":-0.18,"lowerDir":"down"},
      {"bar":18,"upper":4.73,"upperDir":"down","lower":-1.55,"lowerDir":"up"},
      {"bar":19,"upper":3.64,"upperDir":"down","lower":-2.91,"lowerDir":"up"},
      {"bar":20,"upper":2.27,"upperDir":"down","lower":-3.73,"lowerDir":"up"},
      {"bar":21,"upper":0.91,"upperDir":"down","lower":-4.55,"lowerDir":"up"},
      {"bar":22,"upper":0.64,"upperDir":"down","lower":-4.82,"lowerDir":"up"},
      {"bar":23,"upper":1.73,"upperDir":"up","lower":-4.55,"lowerDir":"down"},
      {"bar":24,"upper":2.27,"upperDir":"up","lower":-4.82,"lowerDir":"up"},
      {"bar":25,"upper":2.82,"upperDir":"up","lower":-4.82,"lowerDir":"up"},
      {"bar":26,"upper":3.09,"upperDir":"up","lower":-4.27,"lowerDir":"down"},
      {"bar":27,"upper":3.64,"upperDir":"up","lower":-3.45,"lowerDir":"down"},
      {"bar":28,"upper":3.64,"upperDir":"up","lower":-2.36,"lowerDir":"down"},
      {"bar":29,"upper":3.36,"upperDir":"down","lower":-2.09,"lowerDir":"down"},
      {"bar":30,"upper":2.82,"upperDir":"down","lower":-2.09,"lowerDir":"up"},
      {"bar":31,"upper":2.55,"upperDir":"down","lower":-2.64,"lowerDir":"up"},
      {"bar":32,"upper":2.27,"upperDir":"down","lower":-4.0,"lowerDir":"up"},
      {"bar":33,"upper":3.09,"upperDir":"up","lower":-4.55,"lowerDir":"up"},
      {"bar":34,"upper":3.91,"upperDir":"up","lower":-5.36,"lowerDir":"up"},
      {"bar":35,"upper":4.73,"upperDir":"up","lower":-5.64,"lowerDir":"up"},
      {"bar":36,"upper":5.55,"upperDir":"up","lower":-4.55,"lowerDir":"down"},
      {"bar":37,"upper":6.09,"upperDir":"up","lower":-3.45,"lowerDir":"down"},
      {"bar":38,"upper":5.82,"upperDir":"down","lower":-1.55,"lowerDir":"down"},
      {"bar":39,"upper":5.27,"upperDir":"down","lower":-0.45,"lowerDir":"down"},
      {"bar":40,"upper":3.91,"upperDir":"down","lower":-0.18,"lowerDir":"down"},
      {"bar":41,"upper":2.27,"upperDir":"down","lower":-3.73,"lowerDir":"up"},
      {"bar":42,"upper":2.0,"upperDir":"down","lower":-3.18,"lowerDir":"down"},
      {"bar":43,"upper":3.91,"upperDir":"up","lower":-1.0,"lowerDir":"down"},
      {"bar":44,"upper":4.45,"upperDir":"up","lower":-0.45,"lowerDir":"down"},
      {"bar":45,"upper":3.91,"upperDir":"down","lower":-0.45,"lowerDir":"down"},
      {"bar":46,"upper":2.55,"upperDir":"down","lower":-0.73,"lowerDir":"up"},
      {"bar":47,"upper":2.27,"upperDir":"down","lower":-1.0,"lowerDir":"up"},
      {"bar":48,"upper":2.55,"upperDir":"up","lower":-0.73,"lowerDir":"down"},
      {"bar":49,"upper":2.55,"upperDir":"up","lower":-0.45,"lowerDir":"down"},
      {"bar":50,"upper":2.55,"upperDir":"down","lower":-0.73,"lowerDir":"up"},
      {"bar":51,"upper":2.27,"upperDir":"down","lower":-0.27,"lowerDir":"down"},
      {"bar":52,"upper":2.27,"upperDir":"down","lower":-0.45,"lowerDir":"up"},
      {"bar":53,"upper":1.73,"upperDir":"down","lower":-0.73,"lowerDir":"up"},
      {"bar":54,"upper":1.18,"upperDir":"down","lower":-0.73,"lowerDir":"up"},
      {"bar":55,"upper":0.64,"upperDir":"down","lower":-1.27,"lowerDir":"up"},
      {"bar":56,"upper":0.64,"upperDir":"down","lower":-2.09,"lowerDir":"up"},
      {"bar":57,"upper":0.36,"upperDir":"down","lower":-1.55,"lowerDir":"down"},
      {"bar":58,"upper":0.91,"upperDir":"up","lower":-1.55,"lowerDir":"down"},
      {"bar":59,"upper":1.18,"upperDir":"up","lower":-1.82,"lowerDir":"up"},
      {"bar":60,"upper":1.45,"upperDir":"up","lower":-1.82,"lowerDir":"up"},
      {"bar":61,"upper":1.18,"upperDir":"down","lower":-2.36,"lowerDir":"up"},
      {"bar":62,"upper":1.73,"upperDir":"up","lower":-3.45,"lowerDir":"up"},
      {"bar":63,"upper":2.0,"upperDir":"up","lower":-5.64,"lowerDir":"up"},
      {"bar":64,"upper":2.82,"upperDir":"up","lower":-7.0,"lowerDir":"up"},
      {"bar":65,"upper":4.45,"upperDir":"up","lower":-5.36,"lowerDir":"down"},
      {"bar":66,"upper":6.09,"upperDir":"up","lower":-3.73,"lowerDir":"down"},
      {"bar":67,"upper":5.82,"upperDir":"down","lower":-4.0,"lowerDir":"up"},
      {"bar":68,"upper":5.27,"upperDir":"down","lower":-3.18,"lowerDir":"down"},
      {"bar":69,"upper":4.73,"upperDir":"down","lower":-2.09,"lowerDir":"down"},
      {"bar":70,"upper":4.45,"upperDir":"down","lower":-1.82,"lowerDir":"down"},
      {"bar":71,"upper":3.91,"upperDir":"down","lower":-1.55,"lowerDir":"down"},
      {"bar":72,"upper":3.36,"upperDir":"down","lower":-1.0,"lowerDir":"down"},
      {"bar":73,"upper":3.09,"upperDir":"down","lower":-1.0,"lowerDir":"up"},
      {"bar":74,"upper":2.82,"upperDir":"down","lower":-1.0,"lowerDir":"down"},
      {"bar":75,"upper":2.82,"upperDir":"down","lower":-0.45,"lowerDir":"down"},
      {"bar":76,"upper":2.55,"upperDir":"down","lower":-0.09,"lowerDir":"down"},
      {"bar":77,"upper":2.55,"upperDir":"down","lower":-0.27,"lowerDir":"up"},
      {"bar":78,"upper":2.0,"upperDir":"down","lower":-0.18,"lowerDir":"up"},
      {"bar":79,"upper":1.73,"upperDir":"down","lower":-0.73,"lowerDir":"up"},
      {"bar":80,"upper":1.45,"upperDir":"down","lower":-1.27,"lowerDir":"up"},
      {"bar":81,"upper":2.0,"upperDir":"up","lower":-1.27,"lowerDir":"up"},
      {"bar":82,"upper":2.55,"upperDir":"up","lower":-1.55,"lowerDir":"up"},
      {"bar":83,"upper":2.55,"upperDir":"up","lower":-1.82,"lowerDir":"up"},
      {"bar":84,"upper":2.82,"upperDir":"up","lower":-1.0,"lowerDir":"down"},
      {"bar":85,"upper":2.82,"upperDir":"up","lower":-0.27,"lowerDir":"down"},
      {"bar":86,"upper":2.55,"upperDir":"down","lower":-1.27,"lowerDir":"up"},
      {"bar":87,"upper":2.0,"upperDir":"down","lower":-3.73,"lowerDir":"up"},
      {"bar":88,"upper":2.27,"upperDir":"up","lower":-4.82,"lowerDir":"up"},
      {"bar":89,"upper":3.64,"upperDir":"up","lower":-5.36,"lowerDir":"up"},
      {"bar":90,"upper":5.0,"upperDir":"up","lower":-4.27,"lowerDir":"down"},
      {"bar":91,"upper":6.09,"upperDir":"up","lower":-2.09,"lowerDir":"down"},
      {"bar":92,"upper":5.55,"upperDir":"down","lower":-1.27,"lowerDir":"down"},
      {"bar":93,"upper":4.45,"upperDir":"down","lower":-2.09,"lowerDir":"up"},
      {"bar":94,"upper":3.36,"upperDir":"down","lower":-2.91,"lowerDir":"up"},
      {"bar":95,"upper":3.64,"upperDir":"up","lower":-2.64,"lowerDir":"down"},
      {"bar":96,"upper":3.91,"upperDir":"up","lower":-2.36,"lowerDir":"down"},
      {"bar":97,"upper":4.45,"upperDir":"up","lower":-1.82,"lowerDir":"up"},
      {"bar":98,"upper":4.18,"upperDir":"down","lower":-1.0,"lowerDir":"down"},
      {"bar":99,"upper":3.64,"upperDir":"down","lower":-1.0,"lowerDir":"up"},
      {"bar":100,"upper":3.09,"upperDir":"down","lower":-0.64,"lowerDir":"down"},
      {"bar":101,"upper":3.09,"upperDir":"down","lower":-0.27,"lowerDir":"down"},
      {"bar":102,"upper":2.55,"upperDir":"down","lower":-1.27,"lowerDir":"up"},
      {"bar":103,"upper":2.55,"upperDir":"down","lower":-2.09,"lowerDir":"up"},
      {"bar":104,"upper":2.82,"upperDir":"up","lower":-2.09,"lowerDir":"up"},
      {"bar":105,"upper":3.36,"upperDir":"up","lower":-2.09,"lowerDir":"down"},
      {"bar":106,"upper":3.64,"upperDir":"up","lower":-2.36,"lowerDir":"up"},
      {"bar":107,"upper":3.64,"upperDir":"up","lower":-3.18,"lowerDir":"up"},
      {"bar":108,"upper":3.91,"upperDir":"up","lower":-4.0,"lowerDir":"up"},
      {"bar":109,"upper":4.45,"upperDir":"up","lower":-5.09,"lowerDir":"up"},
      {"bar":110,"upper":5.0,"upperDir":"up","lower":-4.55,"lowerDir":"down"},
      {"bar":111,"upper":5.82,"upperDir":"up","lower":-3.73,"lowerDir":"down"},
      {"bar":112,"upper":6.09,"upperDir":"up","lower":-2.91,"lowerDir":"down"},
      {"bar":113,"upper":5.82,"upperDir":"down","lower":-1.55,"lowerDir":"down"},
      {"bar":114,"upper":5.0,"upperDir":"down","lower":-1.27,"lowerDir":"down"},
      {"bar":115,"upper":4.18,"upperDir":"down","lower":-1.82,"lowerDir":"up"},
      {"bar":116,"upper":3.64,"upperDir":"down","lower":-1.82,"lowerDir":"down"},
      {"bar":117,"upper":3.64,"upperDir":"up","lower":-1.55,"lowerDir":"down"},
      {"bar":118,"upper":3.91,"upperDir":"up","lower":-1.27,"lowerDir":"down"},
      {"bar":119,"upper":3.91,"upperDir":"down","lower":-1.27,"lowerDir":"down"},
      {"bar":120,"upper":3.36,"upperDir":"down","lower":-1.27,"lowerDir":"up"},
      {"bar":121,"upper":3.36,"upperDir":"down","lower":-1.55,"lowerDir":"up"},
      {"bar":122,"upper":3.09,"upperDir":"down","lower":-2.09,"lowerDir":"up"},
      {"bar":123,"upper":3.36,"upperDir":"up","lower":-1.82,"lowerDir":"down"},
      {"bar":124,"upper":3.64,"upperDir":"up","lower":-1.82,"lowerDir":"down"},
      {"bar":125,"upper":3.64,"upperDir":"up","lower":-2.36,"lowerDir":"up"},
      {"bar":126,"upper":3.64,"upperDir":"down","lower":-2.64,"lowerDir":"up"},
      {"bar":127,"upper":3.91,"upperDir":"up","lower":-2.91,"lowerDir":"up"},
      {"bar":128,"upper":4.18,"upperDir":"up","lower":-3.45,"lowerDir":"up"},
      {"bar":129,"upper":4.45,"upperDir":"up","lower":-3.73,"lowerDir":"up"},
      {"bar":130,"upper":4.73,"upperDir":"up","lower":-3.73,"lowerDir":"up"},
      {"bar":131,"upper":5.0,"upperDir":"up","lower":-2.91,"lowerDir":"down"},
      {"bar":132,"upper":5.27,"upperDir":"up","lower":-1.27,"lowerDir":"down"},
      {"bar":133,"upper":5.0,"upperDir":"down","lower":-2.91,"lowerDir":"up"},
      {"bar":134,"upper":3.91,"upperDir":"down","lower":-5.36,"lowerDir":"up"},
      {"bar":135,"upper":4.73,"upperDir":"up","lower":-6.18,"lowerDir":"up"},
      {"bar":136,"upper":5.82,"upperDir":"up","lower":-7.0,"lowerDir":"up"},
      {"bar":137,"upper":7.45,"upperDir":"up","lower":-6.18,"lowerDir":"down"},
      {"bar":138,"upper":8.27,"upperDir":"up","lower":-4.27,"lowerDir":"down"},
      {"bar":139,"upper":8.0,"upperDir":"down","lower":-3.45,"lowerDir":"down"},
      {"bar":140,"upper":7.18,"upperDir":"down","lower":-4.0,"lowerDir":"up"},
      {"bar":141,"upper":6.36,"upperDir":"down","lower":0,"lowerDir":"down"},
      {"bar":142,"upper":5.9498,"upperDir":"down","lower":0,"lowerDir":"down"}
    ],
    "aoTitle": [{"bar":0.5,"value":21.75,"label":"AO 13.1050"}],
    "acTitle": [{"bar":0.5,"value":4.62,"label":"AC -1.22896"}],
    "gatorTitle": [{"bar":0.5,"value":10.44,"label":"Gator(13,8,5) 5.9498 0.0000"}]
  },
  "vconcat": [
    {
      "width": 1220,
      "height": 484,
      "encoding": {
        "x": {
          "field": "bar",
          "type": "quantitative",
          "scale": {"domain": [0, 152.5], "nice": false, "zero": false, "padding": 0},
          "axis": {"title": null, "values": [4,8,12,16,20,24,28,32,36,40,44,48,52,56,60,64,68,72,76,80,84,88,92,96,100,104,108,112,116,120,124,128,132,136,140,144,148,152], "labels": false, "ticks": false, "domain": false, "grid": true}
        }
      },
      "layer": [
        {
          "data": {"name": "candles"},
          "mark": {"type": "rule", "color": "#000", "strokeWidth": 1, "xOffset": 0.5, "clip": true},
          "encoding": {
            "y": {
              "field": "high",
              "type": "quantitative",
              "scale": {"domain": [2613.26, 2700], "nice": false, "zero": false},
              "axis": {
                "title": null,
                "orient": "right",
                "values": [2699.405,2693.67,2687.935,2682.2,2676.465,2670.73,2664.995,2659.26,2653.525,2647.79,2642.055,2636.32,2630.585,2624.85,2619.115],
                "format": ".3f",
                "grid": true,
                "labelOverlap": false
              }
            },
            "y2": {"field": "low"}
          }
        },
        {
          "data": {"name": "candles"},
          "mark": {"type": "bar", "size": 4, "orient": "vertical", "stroke": "#000", "strokeWidth": 1, "xOffset": 0.5, "clip": true},
          "encoding": {
            "y": {"field": "open", "type": "quantitative"},
            "y2": {"field": "close"},
            "fill": {"condition": {"test": "datum.close > datum.open", "value": "#fff"}, "value": "#000"}
          }
        },
        {
          "data": {"name": "lastPrice"},
          "mark": {"type": "rule", "color": "#d40000", "strokeWidth": 1},
          "encoding": {"x": {"value": 0}, "x2": {"value": 1220}, "y": {"field": "price", "type": "quantitative"}}
        },
        {
          "data": {"name": "jaw"},
          "mark": {"type": "line", "color": "#0b50d8", "strokeWidth": 2, "clip": true},
          "encoding": {"y": {"field": "price", "type": "quantitative"}}
        },
        {
          "data": {"name": "teeth"},
          "mark": {"type": "line", "color": "#ff0000", "strokeWidth": 2, "clip": true},
          "encoding": {"y": {"field": "price", "type": "quantitative"}}
        },
        {
          "data": {"name": "lips"},
          "mark": {"type": "line", "color": "#32cd32", "strokeWidth": 2, "clip": true},
          "encoding": {"y": {"field": "price", "type": "quantitative"}}
        },
        {
          "data": {"name": "fractalsUp"},
          "mark": {"type": "point", "shape": "M0,-1L-1,1L0,0.4Z", "size": 100, "filled": true, "fill": "#000", "stroke": "#c08030", "strokeWidth": 0.5, "opacity": 1, "clip": true},
          "encoding": {"y": {"field": "price", "type": "quantitative"}}
        },
        {
          "data": {"name": "fractalsUp"},
          "mark": {"type": "point", "shape": "M0,-1L1,1L0,0.4", "size": 100, "filled": false, "stroke": "#7088b8", "strokeWidth": 0.9, "opacity": 1, "clip": true},
          "encoding": {"y": {"field": "price", "type": "quantitative"}}
        },
        {
          "data": {"name": "fractalsDown"},
          "mark": {"type": "point", "shape": "M0,1L1,-1L0,-0.4Z", "size": 100, "filled": true, "fill": "#000", "stroke": "#c08030", "strokeWidth": 0.5, "opacity": 1, "clip": true},
          "encoding": {"y": {"field": "price", "type": "quantitative"}}
        },
        {
          "data": {"name": "fractalsDown"},
          "mark": {"type": "point", "shape": "M0,1L-1,-1L0,-0.4", "size": 100, "filled": false, "stroke": "#7088b8", "strokeWidth": 0.9, "opacity": 1, "clip": true},
          "encoding": {"y": {"field": "price", "type": "quantitative"}}
        },
        {
          "data": {"name": "signal"},
          "mark": {"type": "point", "shape": "M0,-1L1,-0.1L0.45,-0.1L0.45,1L-0.45,1L-0.45,-0.1L-1,-0.1Z", "size": 289, "filled": true, "fill": "#eefcf6", "stroke": "#32cd32", "strokeWidth": 1.3, "opacity": 1},
          "encoding": {"y": {"field": "price", "type": "quantitative"}}
        },
        {
          "data": {"name": "lastPrice"},
          "mark": {"type": "rect", "color": "#cc0000"},
          "encoding": {"y": {"field": "top", "type": "quantitative"}, "y2": {"field": "bottom"}, "x2": {"field": "barEnd"}}
        },
        {
          "data": {"name": "lastPrice"},
          "mark": {"type": "text", "align": "left", "baseline": "middle", "color": "#fff", "font": "Liberation Sans", "fontSize": 9.5},
          "encoding": {"x": {"field": "textBar", "type": "quantitative"}, "y": {"field": "price", "type": "quantitative"}, "text": {"field": "label"}}
        }
      ]
    },
    {
      "width": 1220,
      "height": 102,
      "encoding": {
        "x": {
          "field": "bar",
          "type": "quantitative",
          "scale": {"domain": [0, 152.5], "nice": false, "zero": false, "padding": 0},
          "axis": {"title": null, "values": [4,8,12,16,20,24,28,32,36,40,44,48,52,56,60,64,68,72,76,80,84,88,92,96,100,104,108,112,116,120,124,128,132,136,140,144,148,152], "labels": false, "ticks": false, "domain": false, "grid": true}
        }
      },
      "layer": [
        {
          "data": {"name": "ao"},
          "mark": {"type": "bar", "size": 4, "orient": "vertical", "clip": true},
          "encoding": {
            "y": {
              "field": "value",
              "type": "quantitative",
              "stack": null,
              "scale": {"domain": [-19.5013, 25.5866], "nice": false, "zero": false},
              "axis": {"title": null, "orient": "right", "values": [25.5866, 0, -19.5013], "format": ".4f", "grid": true, "gridOpacity": {"expr": "datum.value == 0 ? 1 : 0"}, "labelFlush": true, "labelOverlap": false}
            },
            "fill": {"field": "dir", "type": "nominal", "scale": {"domain": ["up", "down"], "range": ["#008000", "#ff0000"]}, "legend": null}
          }
        },
        {
          "data": {"name": "aoTitle"},
          "mark": {"type": "text", "align": "left", "baseline": "middle", "color": "#000", "font": "Liberation Sans", "fontSize": 9.5},
          "encoding": {"y": {"field": "value", "type": "quantitative"}, "text": {"field": "label"}}
        }
      ]
    },
    {
      "width": 1220,
      "height": 101,
      "encoding": {
        "x": {
          "field": "bar",
          "type": "quantitative",
          "scale": {"domain": [0, 152.5], "nice": false, "zero": false, "padding": 0},
          "axis": {"title": null, "values": [4,8,12,16,20,24,28,32,36,40,44,48,52,56,60,64,68,72,76,80,84,88,92,96,100,104,108,112,116,120,124,128,132,136,140,144,148,152], "labels": false, "ticks": false, "domain": false, "grid": true}
        }
      },
      "layer": [
        {
          "data": {"name": "ac"},
          "mark": {"type": "bar", "size": 4, "orient": "vertical", "clip": true},
          "encoding": {
            "y": {
              "field": "value",
              "type": "quantitative",
              "stack": null,
              "scale": {"domain": [-7.01692, 5.79748], "nice": false, "zero": false},
              "axis": {"title": null, "orient": "right", "values": [5.79748, 0, -7.01692], "format": ".5f", "grid": true, "gridOpacity": {"expr": "datum.value == 0 ? 1 : 0"}, "labelFlush": true, "labelOverlap": false}
            },
            "fill": {"field": "dir", "type": "nominal", "scale": {"domain": ["up", "down"], "range": ["#008000", "#ff0000"]}, "legend": null}
          }
        },
        {
          "data": {"name": "acTitle"},
          "mark": {"type": "text", "align": "left", "baseline": "middle", "color": "#000", "font": "Liberation Sans", "fontSize": 9.5},
          "encoding": {"y": {"field": "value", "type": "quantitative"}, "text": {"field": "label"}}
        }
      ]
    },
    {
      "width": 1220,
      "height": 84,
      "encoding": {
        "x": {
          "field": "bar",
          "type": "quantitative",
          "scale": {"domain": [0, 152.5], "nice": false, "zero": false, "padding": 0},
          "axis": {
            "title": null,
            "values": [0,4,8,12,16,20,24,28,32,36,40,44,48,52,56,60,64,68,72,76,80,84,88,92,96,100,104,108,112,116,120,124,128,132,136,140,144,148,152],
            "grid": true,
            "gridOpacity": {"expr": "datum.value == 0 ? 0 : 1"},
            "labelAlign": "left",
            "labelAngle": 0,
            "labelFlush": false,
            "labelOverlap": false,
            "labelBound": false,
            "labelPadding": 2,
            "labelOffset": -1.5,
            "tickOpacity": {"expr": "datum.value % 8 == 0 && datum.value <= 136 ? 1 : 0"},
            "labelExpr": "datum.value % 8 || datum.value > 136 ? '' : ['3 Jan 2025','3 Jan 09:00','3 Jan 17:00','6 Jan 02:00','6 Jan 10:00','6 Jan 18:00','7 Jan 03:00','7 Jan 11:00','7 Jan 19:00','8 Jan 04:00','8 Jan 12:00','8 Jan 20:00','9 Jan 05:00','9 Jan 13:00','9 Jan 21:00','10 Jan 06:00','10 Jan 14:00','10 Jan 22:00'][datum.value / 8]"
          }
        }
      },
      "layer": [
        {
          "data": {"name": "gator"},
          "mark": {"type": "bar", "size": 4, "orient": "vertical", "clip": true},
          "encoding": {
            "y": {
              "field": "upper",
              "type": "quantitative",
              "stack": null,
              "scale": {"domain": [-9.9205, 12.9834], "nice": false, "zero": false},
              "axis": {"title": null, "orient": "right", "values": [12.9834, 0, -9.9205], "format": ".4f", "grid": true, "gridOpacity": {"expr": "datum.value == 0 ? 1 : 0"}, "labelFlush": true, "labelOverlap": false}
            },
            "fill": {"field": "upperDir", "type": "nominal", "scale": {"domain": ["up", "down"], "range": ["#008000", "#ff0000"]}, "legend": null}
          }
        },
        {
          "data": {"name": "gator"},
          "mark": {"type": "bar", "size": 4, "orient": "vertical", "clip": true},
          "encoding": {
            "y": {"field": "lower", "type": "quantitative", "stack": null},
            "fill": {"field": "lowerDir", "type": "nominal", "legend": null}
          }
        },
        {
          "data": {"name": "gatorTitle"},
          "mark": {"type": "text", "align": "left", "baseline": "middle", "color": "#000", "font": "Liberation Sans", "fontSize": 9.5},
          "encoding": {"y": {"field": "value", "type": "quantitative"}, "text": {"field": "label"}}
        }
      ]
    }
  ],
  "config": {
    "view": {"stroke": "#000", "strokeWidth": 1},
    "axis": {
      "gridColor": "#e2e2e2",
      "gridDash": [4, 4],
      "gridWidth": 1,
      "domainColor": "#000",
      "tickColor": "#000",
      "tickSize": 4,
      "labelColor": "#000",
      "labelFont": "Liberation Sans",
      "labelFontSize": 9.5,
      "labelPadding": 2
    }
  }
}
